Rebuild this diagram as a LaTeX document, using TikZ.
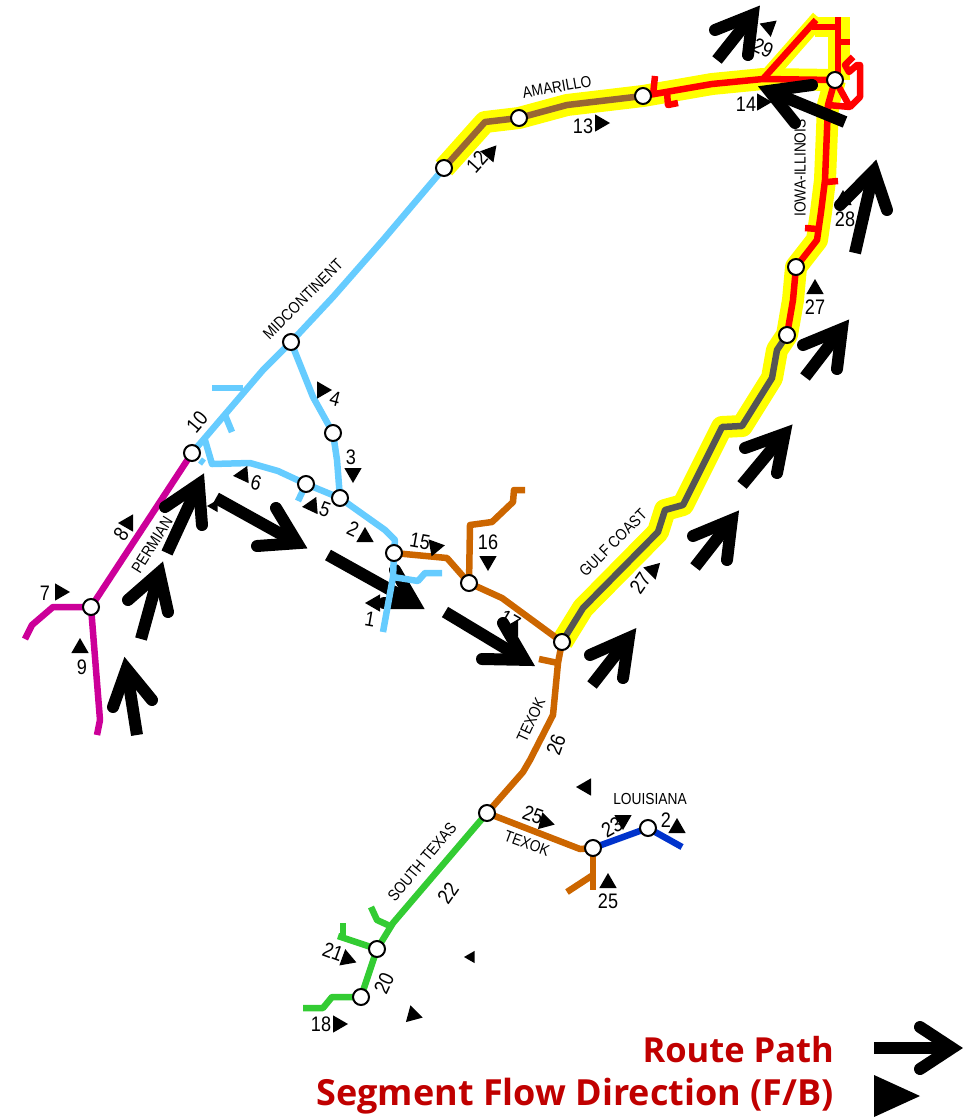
\documentclass[tikz,border=0pt]{standalone}
\usepackage{fontspec}
\setmainfont{Liberation Sans}
\newfontfamily\legendfont{Open Sans}
\newfontfamily\narrowfont[FakeStretch=0.86]{Liberation Sans}
\usetikzlibrary{calc,shapes.geometric,backgrounds}
\definecolor{rYellow}{HTML}{FFFF00}
\definecolor{rRed}{HTML}{FF0000}
\definecolor{rBrown}{HTML}{996633}
\definecolor{rGray}{HTML}{555555}
\definecolor{rBlue}{HTML}{66CCFF}
\definecolor{rOrange}{HTML}{CC6600}
\definecolor{rDark}{HTML}{0033CC}
\definecolor{rGreen}{HTML}{33CC33}
\definecolor{rMag}{HTML}{CC0099}
\definecolor{rLegend}{HTML}{C00000}
\tikzset{
  hub/.style={circle,draw=black,fill=white,line width=2pt,minimum size=16pt,inner sep=0pt},
  tri/.style={regular polygon,regular polygon sides=3,fill=black,inner sep=0pt,minimum size=20pt},
  smalltri/.style={tri,minimum size=14pt},
  num/.style={inner sep=0pt,font=\narrowfont\fontsize{21}{21}\selectfont},
  lineName/.style={inner sep=0pt,font=\narrowfont\fontsize{16}{16}\selectfont},
  legendText/.style={inner sep=0pt,anchor=base east,text=rLegend,font=\legendfont\bfseries\fontsize{36}{36}\selectfont},
  glow/.style={draw=rYellow,line width=22pt,line join=round},
  seg/.style={line width=6.5pt,line join=round},
  shaft/.style={draw=black,line width=12pt},
  barb/.style={draw=black,line width=12pt,line cap=round,line join=miter}
}
\newcommand{\routearrow}[5]{%
  \coordinate (#1t) at (#2);
  \coordinate (#1h) at (#3);
  \coordinate (#1v) at ($(#1h)!10pt!(#1t)$);
  \draw[shaft] (#1t) -- (#1v);
  \draw[barb] (#4) -- (#1v) -- (#5);
}
\begin{document}
\begin{tikzpicture}[x=1pt,y=-1pt]
\useasboundingbox (0,0) rectangle (966,1117);
% hubs
\node[hub] (n12) at (444,168) {};
\node[hub] (nAm) at (519,118) {};
\node[hub] (n13) at (643,96) {};
\node[hub] (nTop) at (835,80) {};
\node[hub] (n27a) at (796,267) {};
\node[hub] (n27b) at (787,335) {};
\node[hub] (nGulf) at (562,642) {};
\node[hub] (n16) at (469,583) {};
\node[hub] (n15) at (394,553) {};
\node[hub] (n2) at (340,498) {};
\node[hub] (n5) at (306,484) {};
\node[hub] (n3) at (333,433) {};
\node[hub] (nMid) at (291,342) {};
\node[hub] (n10) at (192,453) {};
\node[hub] (n7) at (91,607) {};
\node[hub] (nTex) at (487,813) {};
\node[hub] (n23) at (593,848) {};
\node[hub] (nLa) at (648,828) {};
\node[hub] (n21) at (377,949) {};
\node[hub] (n18) at (361,997) {};
\begin{pgfonlayer}{background}
% yellow highlight
\draw[glow] (n12.center) -- (485,122) -- (nAm.center) -- (567,105) -- (n13.center) -- (712,84) -- (763,79) -- (nTop.center);
\draw[glow,line width=16pt] (768,76) -- (819,18);
\draw[glow,line width=20pt] (815,27) -- (850,27);
\draw[glow] (839,17) -- (839,80);
\draw[glow] (nTop.center) -- (828,105) -- (825,180) -- (821,212) -- (817,240) -- (n27a.center) -- (793,300) -- (n27b.center) -- (777,350) -- (772,378) -- (742,426) -- (722,427) -- (683,505) -- (665,510) -- (658,532) -- (583,608) -- (nGulf.center);
% route segments
\draw[seg,draw=rBrown] (n12.center) -- (485,122) -- (nAm.center) -- (567,105) -- (n13.center);
\draw[seg,draw=rRed] (n13.center) -- (712,84) -- (763,79) -- (nTop.center);
\draw[seg,draw=rRed] (655,76) -- (653,95);
\draw[seg,draw=rRed] (667,92) -- (668,105) -- (678,103);
\draw[seg,draw=rRed] (763,79) -- (816,20);
\draw[seg,draw=rRed] (812,27) -- (838,27);
\draw[seg,draw=rRed] (838,17) -- (838,80);
\draw[seg,draw=rRed] (840,42) -- (850,42);
\draw[seg,draw=rRed] (nTop.center) -- (850,107) -- (828,105) -- (nTop.center);
\draw[seg,draw=rRed] (853,57) -- (845,65) -- (849,72) -- (857,65) -- (860,65) -- (860,97) -- (850,107);
\draw[seg,draw=rRed] (828,105) -- (825,180) -- (821,212) -- (817,240) -- (n27a.center) -- (793,300) -- (n27b.center);
\draw[seg,draw=rRed] (827,182) -- (838,181);
\draw[seg,draw=rRed] (805,228) -- (817,229);
\draw[seg,draw=rGray] (n27b.center) -- (777,350) -- (772,378) -- (742,426) -- (722,427) -- (683,505) -- (665,510) -- (658,532) -- (583,608) -- (nGulf.center);
% route arrow drawn under the lines
\routearrow{aE}{328,555}{423,608}{395,570}{384,603}
\node[tri] (t1) at (375,603) [shape border rotate=90] {};
\draw[seg,draw=rBlue] (n12.center) -- (383,240) -- (333,297) -- (nMid.center) -- (263,370) -- (n10.center);
\draw[seg,draw=rBlue] (243,388) -- (212,388);
\draw[seg,draw=rBlue] (225,415) -- (232,432);
\draw[seg,draw=rBlue] (205,440) -- (212,464) -- (250,463) -- (278,471) -- (n5.center) -- (n2.center);
\draw[seg,draw=rBlue] (200,460) -- (204,463);
\draw[seg,draw=rBlue] (n5.center) -- (298,501);
\draw[seg,draw=rBlue] (nMid.center) -- (313,397) -- (n3.center) -- (337,460) -- (n2.center);
\draw[seg,draw=rBlue] (n2.center) -- (385,530) -- (395,540) -- (n15.center);
\draw[seg,draw=rBlue] (n15.center) -- (393,577) -- (383,632);
\draw[seg,draw=rBlue] (393,577) -- (418,581) -- (425,573) -- (442,573);
\draw[seg,draw=rOrange] (n15.center) -- (447,558) -- (n16.center) -- (502,598) -- (nGulf.center);
\draw[seg,draw=rOrange] (n16.center) -- (470,525) -- (492,522) -- (513,502) -- (514,490) -- (525,490);
\draw[seg,draw=rOrange] (nGulf.center) -- (558,663) -- (553,715) -- (530,760) -- (523,772) -- (nTex.center);
\draw[seg,draw=rOrange] (558,663) -- (539,659);
\draw[seg,draw=rOrange] (nTex.center) -- (580,849) -- (n23.center);
\draw[seg,draw=rOrange] (n23.center) -- (593,890);
\draw[seg,draw=rOrange] (593,875) -- (567,892);
\draw[seg,draw=rDark] (n23.center) -- (nLa.center) -- (682,847);
\draw[seg,draw=rGreen] (nTex.center) -- (393,923) -- (n21.center) -- (n18.center);
\draw[seg,draw=rGreen] (n18.center) -- (332,997) -- (323,1008) -- (303,1008);
\draw[seg,draw=rGreen] (390,926) -- (377,920) -- (371,907);
\draw[seg,draw=rGreen] (n21.center) -- (338,936);
\draw[seg,draw=rGreen] (343,923) -- (343,937);
\draw[seg,draw=rMag] (n10.center) -- (n7.center);
\draw[seg,draw=rMag] (n7.center) -- (53,607) -- (32,625) -- (25,639);
\draw[seg,draw=rMag] (n7.center) -- (100,720) -- (97,735);
\end{pgfonlayer}
% flow triangles
\node[tri,shape border rotate=-50] (t29) at (769,27) {};
\node[tri,shape border rotate=-90] (t14) at (762,102) {};
\node[tri] (t28) at (843,200) {};
\node[tri] (t27a) at (815,289) {};
\node[tri,shape border rotate=-40] (t12) at (490,153) {};
\node[tri,shape border rotate=-90] (t13) at (600,123) {};
\node[tri,shape border rotate=-45] (t27g) at (653,570) {};
\node[tri,shape border rotate=-80] (t15) at (435,547) {};
\node[tri,shape border rotate=180] (t16) at (488,561) {};
\node[tri,shape border rotate=-30] (t17) at (513,628) {};
\node[tri] (t2) at (365,537) {};
\node[tri,shape border rotate=180] (t3) at (353,473) {};
\node[tri,shape border rotate=-90] (t4) at (322,390) {};
\node[tri,shape border rotate=95] (t5) at (312,506) {};
\node[tri,shape border rotate=95] (t6) at (243,475) {};
\node[tri,shape border rotate=-90] (t7) at (60,592) {};
\node[tri,shape border rotate=90] (t8) at (128,523) {};
\node[tri] (t9) at (80,648) {};
\node[smalltri,shape border rotate=90] (tS) at (214,506) {};
\node[tri,shape border rotate=-105] (t25a) at (545,822) {};
\node[tri,shape border rotate=180] (t23) at (623,820) {};
\node[tri] (t24) at (677,828) {};
\node[tri] (t25b) at (608,883) {};
\node[tri,shape border rotate=90] (tL) at (586,787) {};
\node[tri,shape border rotate=-110] (t21) at (347,959) {};
\node[smalltri,shape border rotate=90] (tS2) at (471,957) {};
\node[tri,shape border rotate=15] (t20) at (413,1015) {};
\node[tri,shape border rotate=-90] (t18) at (338,1024) {};
% labels
\node[num,rotate=-25] (l29) at (763,48) {29};
\node[num] (l14) at (746,104) {14};
\node[lineName,rotate=90] (lIowa) at (800,168) {IOWA-ILLINOIS};
\node[num] (l28) at (845,219) {28};
\node[num] (l27a) at (815,307) {27};
\node[lineName,rotate=10] (lAm) at (557,87) {AMARILLO};
\node[num,rotate=48] (l12) at (477,162) {12};
\node[num] (l13) at (583,126) {13};
\node[lineName,rotate=45] (lMid) at (303,299) {MIDCONTINENT};
\node[num,rotate=-15] (l4) at (335,399) {4};
\node[num,rotate=50] (l10) at (197,422) {10};
\node[num] (l3) at (351,457) {3};
\node[num,rotate=-15] (l6) at (256,483) {6};
\node[num,rotate=-20] (l5) at (325,510) {5};
\node[num,rotate=-25] (l2) at (353,529) {2};
\node[num,rotate=55] (l8) at (121,534) {8};
\node[lineName,rotate=58] (lPerm) at (152,545) {PERMIAN};
\node[num] (l7) at (45,593) {7};
\node[num] (l9) at (82,667) {9};
\node[num,rotate=-10] (l15) at (420,541) {15};
\node[num] (l16) at (488,542) {16};
\node[num,rotate=-30] (l17) at (510,620) {17};
\node[num,rotate=-10] (l1) at (370,619) {1};
\node[lineName,rotate=45] (lGulf) at (613,543) {GULF COAST};
\node[num,rotate=55] (l27g) at (640,583) {27};
\node[lineName,rotate=65] (lTex) at (531,720) {TEXOK};
\node[num,rotate=70] (l26) at (556,745) {26};
\node[num,rotate=-20] (l25a) at (533,815) {25};
\node[lineName,rotate=-20] (lTex2) at (527,843) {TEXOK};
\node[lineName] (lLa) at (650,799) {LOUISIANA};
\node[num,rotate=30] (l23) at (612,827) {23};
\node[num] (l24) at (666,820) {2};
\node[num] (l25b) at (608,901) {25};
\node[lineName,rotate=50] (lSouth) at (422,862) {SOUTH TEXAS};
\node[num,rotate=55] (l22) at (448,893) {22};
\node[num,rotate=-20] (l21) at (333,952) {21};
\node[num,rotate=65] (l20) at (384,983) {20};
\node[num] (l18) at (321,1024) {18};
% route arrows
\routearrow{a1}{137,735}{125,659}{113,707}{152,700}
\routearrow{a2}{141,639}{162,563}{128,600}{168,612}
\routearrow{a3}{167,553}{203,475}{165,507}{202,525}
\routearrow{a4}{216,498}{306,548}{276,508}{257,546}
\routearrow{a6}{445,612}{533,665}{503,623}{482,659}
\routearrow{a7}{592,685}{635,630}{590,655}{623,678}
\routearrow{a8}{695,567}{738,512}{693,536}{727,560}
\routearrow{a9}{742,485}{791,426}{745,448}{777,473}
\routearrow{a10}{805,377}{848,321}{803,345}{837,369}
\routearrow{a11}{855,253}{876,161}{840,205}{887,210}
\routearrow{a12}{845,122}{760,87}{812,85}{795,123}
\routearrow{a13}{717,60}{759,7}{715,30}{748,55}
% legend
\node[legendText,font=\legendfont\bfseries\fontsize{34.5}{36}\selectfont] (lgA) at (834,1062) {Route Path};
\node[legendText] (lgB) at (834,1105) {Segment Flow Direction (F/B)};
\routearrow{lgArrow}{874,1048}{962,1048}{920,1027}{920,1069}
\coordinate (lgT1) at (874,1075);
\coordinate (lgT2) at (874,1117);
\coordinate (lgT3) at (920,1096);
\fill[black] (lgT1) -- (lgT2) -- (lgT3) -- cycle;
\end{tikzpicture}
\end{document}
